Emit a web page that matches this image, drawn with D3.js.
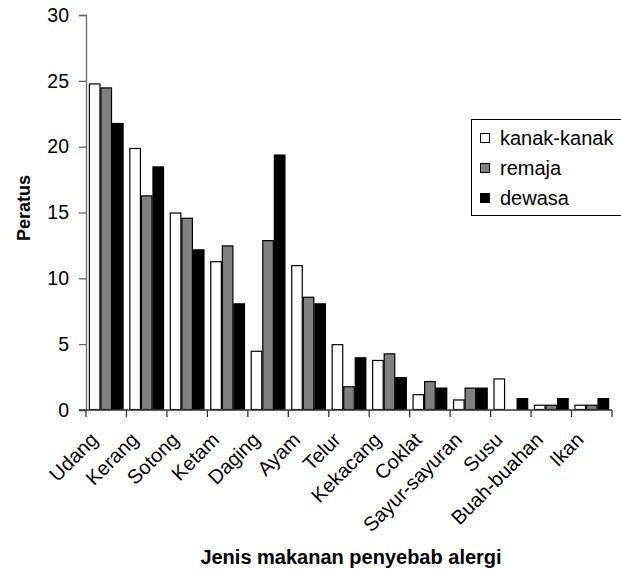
<!DOCTYPE html>
<html><head><meta charset="utf-8">
<script src="https://cdn.jsdelivr.net/npm/d3@7"></script>
<style>body{margin:0;background:#fff}svg{display:block}text{font-family:"Liberation Sans",Arial,sans-serif}</style>
</head><body><svg id="c" width="621" height="569"></svg>
<script>
const categories = ["Udang","Kerang","Sotong","Ketam","Daging","Ayam","Telur","Kekacang","Coklat","Sayur-sayuran","Susu","Buah-buahan","Ikan"];
const seriesNames = ["kanak-kanak","remaja","dewasa"];
const kanakKanak = [24.8,19.9,15.0,11.3,4.5,11.0,5.0,3.8,1.2,0.8,2.4,0.4,0.4];
const remaja     = [24.5,16.3,14.6,12.5,12.9,8.6,1.8,4.3,2.2,1.7,0,0.4,0.4];
const dewasa     = [21.8,18.5,12.2,8.1,19.4,8.1,4.0,2.5,1.7,1.7,0.9,0.9,0.9];
const yTicks = [0,5,10,15,20,25,30];
const colors = ["#ffffff","#808080","#000000"];
const seriesValues = [kanakKanak, remaja, dewasa];

const svg = d3.select("#c");
const L = 86, R = 612, T = 15, B = 410;
const x = d3.scaleBand().domain(categories).range([L, R]).paddingInner(0).paddingOuter(0);
const x1 = d3.scaleBand().domain(seriesNames).range([0, x.bandwidth()]).paddingInner(0).paddingOuter(0.25);
const y = d3.scaleLinear().domain([0, 30]).range([B, T]);

// bars
const g = svg.append("g");
categories.forEach((c, i) => {
  seriesNames.forEach((s, j) => {
    const v = seriesValues[j][i];
    if (v <= 0) return;
    g.append("rect")
      .attr("x", x(c) + x1(s) + 0.5)
      .attr("y", y(v) + 0.5)
      .attr("width", x1.bandwidth() - 1)
      .attr("height", Math.max(0, y(0) - y(v) - 1))
      .attr("fill", colors[j])
      .attr("stroke", "#000")
      .attr("stroke-width", 1.2);
  });
});

// y axis
const yAxis = svg.append("g").attr("transform", `translate(${L},0)`)
  .call(d3.axisLeft(y).tickValues(yTicks).tickSize(7).tickPadding(10).tickFormat(d3.format("d")));
yAxis.select(".domain").attr("stroke", "#666").attr("stroke-width", 1.3);
yAxis.selectAll(".tick line").attr("stroke", "#666").attr("stroke-width", 1.3);
yAxis.selectAll("text").attr("font-size", 19.5).attr("fill", "#000").attr("font-family", "Liberation Sans, Arial, sans-serif");

// x axis line and ticks at category boundaries
const xg = svg.append("g");
xg.append("line").attr("x1", L - 7).attr("x2", R).attr("y1", B).attr("y2", B).attr("stroke", "#333").attr("stroke-width", 1.3);
categories.concat([null]).forEach((c, i) => {
  const px = c ? x(c) : R;
  xg.append("line").attr("x1", px).attr("x2", px).attr("y1", B).attr("y2", B + 7).attr("stroke", "#333").attr("stroke-width", 1.3);
});
categories.forEach(c => {
  const cx = x(c) + x.bandwidth() / 2;
  xg.append("text")
    .attr("transform", `translate(${cx - 7},${B + 31}) rotate(-45)`)
    .attr("text-anchor", "end")
    .attr("font-size", 20)
    .text(c);
});

// axis titles
svg.append("text").attr("transform", `translate(30,208) rotate(-90)`)
  .attr("text-anchor", "middle").attr("font-size", 18).attr("font-weight", "bold").text("Peratus");
svg.append("text").attr("x", 351).attr("y", 564)
  .attr("text-anchor", "middle").attr("font-size", 20).attr("font-weight", "bold").text("Jenis makanan penyebab alergi");

// legend
const lg = svg.append("g");
lg.append("rect").attr("x", 471.5).attr("y", 119.5).attr("width", 160).attr("height", 96)
  .attr("fill", "#fff").attr("stroke", "#000").attr("stroke-width", 1);
seriesNames.forEach((s, j) => {
  const cy = 138 + j * 30;
  lg.append("rect").attr("x", 480.5).attr("y", cy - 4.5).attr("width", 9).attr("height", 9)
    .attr("fill", colors[j]).attr("stroke", "#000").attr("stroke-width", 1);
  lg.append("text").attr("x", 500).attr("y", cy).attr("dy", "0.35em").attr("font-size", 20).text(s);
});
</script>
</body></html>
